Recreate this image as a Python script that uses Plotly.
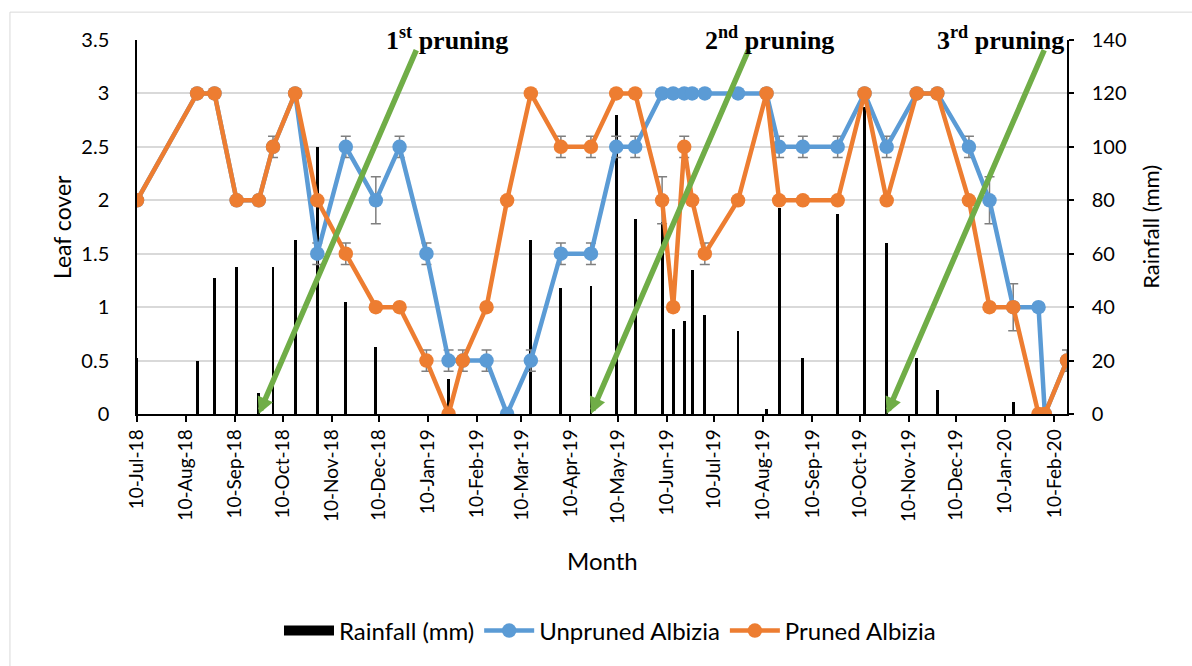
import plotly.graph_objects as go

# Sampling dates shared by both leaf-cover series and the rainfall record
dates = [
    "2018-07-10", "2018-08-17", "2018-08-28", "2018-09-11", "2018-09-25",
    "2018-10-04", "2018-10-18", "2018-11-01", "2018-11-19", "2018-12-08",
    "2018-12-23", "2019-01-09", "2019-01-23", "2019-02-01", "2019-02-16",
    "2019-03-01", "2019-03-16", "2019-04-04", "2019-04-23", "2019-05-09",
    "2019-05-21", "2019-06-07", "2019-06-14", "2019-06-21", "2019-06-26",
    "2019-07-04", "2019-07-25", "2019-08-12", "2019-08-20", "2019-09-04",
    "2019-09-26", "2019-10-13", "2019-10-27", "2019-11-15", "2019-11-28",
    "2019-12-18", "2019-12-31", "2020-01-15", "2020-01-31", "2020-02-04",
    "2020-02-18",
]

unpruned = [
    2, 3, 3, 2, 2, 2.5, 3, 1.5, 2.5, 2,
    2.5, 1.5, 0.5, 0.5, 0.5, 0, 0.5, 1.5, 1.5, 2.5,
    2.5, 3, 3, 3, 3, 3, 3, 3, 2.5, 2.5,
    2.5, 3, 2.5, 3, 3, 2.5, 2, 1, 1, 0,
    0.5,
]

pruned = [
    2, 3, 3, 2, 2, 2.5, 3, 2, 1.5, 1,
    1, 0.5, 0, 0.5, 1, 2, 3, 2.5, 2.5, 3,
    3, 2, 1, 2.5, 2, 1.5, 2, 3, 2, 2,
    2, 3, 2, 3, 3, 2, 1, 1, 0, 0,
    0.5,
]

unpruned_err = [
    0, 0, 0, 0, 0, 0, 0, 0.1, 0.1, 0.22,
    0.1, 0.1, 0.1, 0, 0.1, 0, 0.1, 0.1, 0.1, 0.1,
    0.1, 0, 0, 0, 0, 0, 0, 0, 0.1, 0.1,
    0.1, 0, 0.1, 0, 0, 0.1, 0.22, 0.22, 0, 0,
    0,
]

pruned_err = [
    0, 0, 0, 0, 0, 0.1, 0, 0, 0.1, 0,
    0, 0.1, 0, 0.1, 0, 0, 0, 0.1, 0.1, 0,
    0, 0.22, 0, 0.1, 0, 0.1, 0, 0, 0, 0,
    0, 0, 0, 0, 0, 0, 0, 0, 0, 0,
    0.1,
]

rainfall_mm = [
    21, 20, 51, 55, 8, 55, 65, 100, 42, 25,
    0, 0, 13, 0, 0, 0, 65, 47, 48, 112,
    73, 72, 32, 35, 54, 37, 31, 2, 77, 21,
    75, 115, 64, 21, 9, 0, 0, 4.5, 0, 0,
    0,
]

month_ticks = [
    "2018-07-10", "2018-08-10", "2018-09-10", "2018-10-10", "2018-11-10",
    "2018-12-10", "2019-01-10", "2019-02-10", "2019-03-10", "2019-04-10",
    "2019-05-10", "2019-06-10", "2019-07-10", "2019-08-10", "2019-09-10",
    "2019-10-10", "2019-11-10", "2019-12-10", "2020-01-10", "2020-02-10",
]

# Pruning events: arrow tip on the date axis, arrow tail up to the right
pruning_dates = ["2018-09-25", "2019-04-23", "2019-10-27"]
pruning_arrow_tails = ["2019-01-03", "2019-08-01", "2020-02-04"]
pruning_labels = ["1<sup>st</sup> pruning", "2<sup>nd</sup> pruning", "3<sup>rd</sup> pruning"]
pruning_label_x = [0.333, 0.680, 0.929]

FONT = "Lato"
BLUE = "#5B9BD5"
ORANGE = "#ED7D31"
GREEN = "#70AD47"
ERR = "#7F7F7F"

fig = go.Figure()

# Legend key for the rainfall bars (a wide black block)
fig.add_trace(go.Scatter(
    x=[None], y=[None], name="Rainfall (mm)", mode="lines",
    line=dict(color="black", width=14), yaxis="y",
))

fig.add_trace(go.Bar(
    x=dates, y=rainfall_mm, name="Rainfall (mm)", showlegend=False,
    marker=dict(color="black", line=dict(width=0)),
    width=1.8 * 86400000, yaxis="y",
))

fig.add_trace(go.Scatter(
    x=dates, y=unpruned, name="Unpruned Albizia", yaxis="y2",
    mode="lines+markers",
    line=dict(color=BLUE, width=4.5),
    marker=dict(color=BLUE, size=14.5),
    error_y=dict(type="data", array=unpruned_err, color=ERR, thickness=1.5, width=5),
))

fig.add_trace(go.Scatter(
    x=dates, y=pruned, name="Pruned Albizia", yaxis="y2",
    mode="lines+markers",
    line=dict(color=ORANGE, width=4.5),
    marker=dict(color=ORANGE, size=14.5),
    error_y=dict(type="data", array=pruned_err, color=ERR, thickness=1.5, width=5),
))

annotations = []
for d, tail in zip(pruning_dates, pruning_arrow_tails):
    annotations.append(dict(
        x=d, y=0, xref="x", yref="y2",
        ax=tail, ay=3.42, axref="x", ayref="y2",
        text="", showarrow=True, arrowhead=2, arrowsize=0.6,
        arrowwidth=5.5, arrowcolor=GREEN, standoff=0,
    ))
for lbl, px in zip(pruning_labels, pruning_label_x):
    annotations.append(dict(
        x=px, y=1.005, xref="paper", yref="paper",
        text="<b>" + lbl + "</b>", showarrow=False,
        xanchor="center", yanchor="middle",
        font=dict(family="Liberation Serif", size=26, color="black"),
    ))

annotations += [
    dict(x=0.5, y=-0.391, xref="paper", yref="paper", text="Month",
         showarrow=False, font=dict(family=FONT, size=24, color="black"),
         xanchor="center", yanchor="middle"),
    dict(x=-0.0806, y=0.5, xref="paper", yref="paper", text="Leaf cover",
         showarrow=False, textangle=-90, font=dict(family=FONT, size=23, color="black"),
         xanchor="center", yanchor="middle"),
    dict(x=1.089, y=0.5, xref="paper", yref="paper", text="Rainfall (mm)",
         showarrow=False, textangle=-90, font=dict(family=FONT, size=22, color="black"),
         xanchor="center", yanchor="middle"),
]

fig.update_layout(
    width=1192, height=666,
    margin=dict(l=137, r=125, t=40, b=250),
    paper_bgcolor="white", plot_bgcolor="white",
    font=dict(family=FONT, color="black"),
    bargap=0,
    xaxis=dict(
        type="date", range=["2018-07-10", "2020-02-18"],
        tickmode="array", tickvals=month_ticks, tickformat="%d-%b-%y",
        tickangle=-90, ticks="outside", ticklen=6, tickcolor="black", tickwidth=1.5,
        showline=True, linecolor="black", linewidth=1.5,
        showgrid=False, zeroline=False,
        tickfont=dict(family=FONT, size=19, color="black"),
    ),
    yaxis=dict(
        side="right", range=[0, 140], dtick=20, tick0=0,
        ticks="outside", ticklen=5, tickcolor="black", tickwidth=1.5,
        showline=True, linecolor="black", linewidth=1.5,
        showgrid=True, gridcolor="#D9D9D9", gridwidth=1.5, zeroline=False,
        ticklabelstandoff=14,
        tickfont=dict(family=FONT, size=20, color="black"),
    ),
    yaxis2=dict(
        overlaying="y", side="left", range=[0, 3.5], dtick=0.5, tick0=0,
        ticks="", showline=True, linecolor="black", linewidth=1.5,
        showgrid=False, zeroline=False,
        ticklabelstandoff=22,
        tickfont=dict(family=FONT, size=20, color="black"),
    ),
    legend=dict(
        orientation="h", x=0.5086, xanchor="center", y=-0.58, yanchor="middle",
        font=dict(family=FONT, size=24, color="black"),
        itemwidth=50, traceorder="normal",
    ),
    annotations=annotations,
    shapes=[dict(
        type="rect", xref="paper", yref="paper",
        x0=-0.1366, y0=1.0745, x1=1.2, y1=-0.75,
        line=dict(color="#D9D9D9", width=1), layer="below",
    )],
)

fig.write_html("out.html")
